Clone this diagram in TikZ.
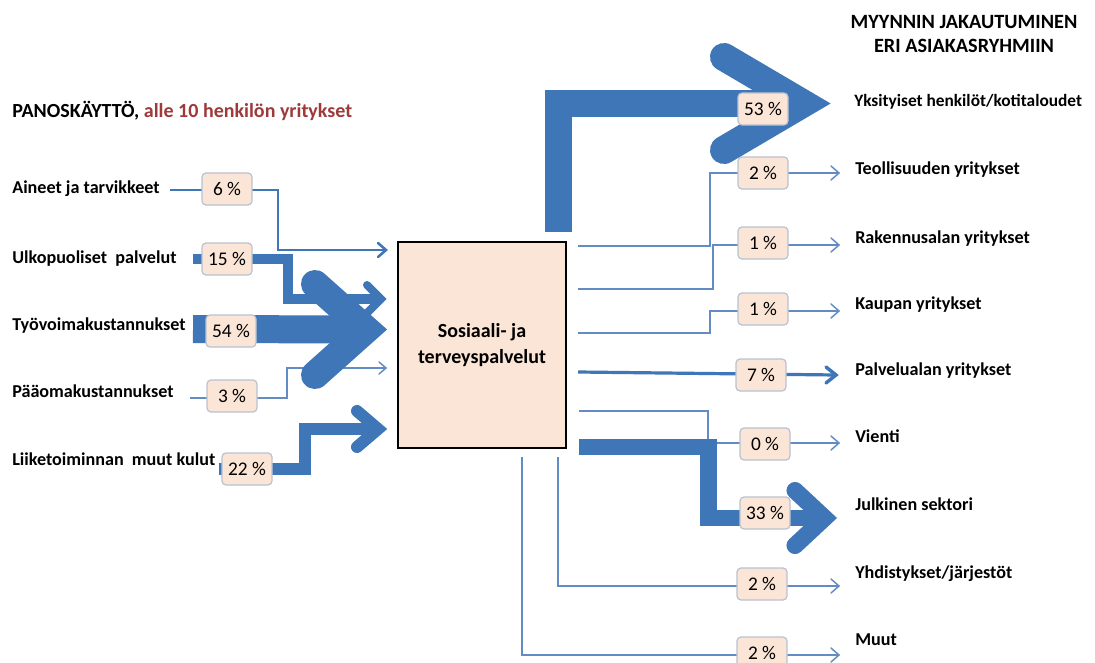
\documentclass[tikz,border=0pt]{standalone}
\usepackage{fontspec}
\setmainfont{Carlito}
\usetikzlibrary{calc,backgrounds}

\definecolor{flowblue}{RGB}{63,118,184}
\definecolor{thinblue}{RGB}{100,140,196}
\definecolor{peach}{RGB}{251,229,214}
\definecolor{pctedge}{RGB}{184,194,210}
\definecolor{accentred}{RGB}{158,58,58}

% open arrow head: colour, tip, stroke width, back length, half spread
\newcommand{\chevron}[5]{%
  \draw[#1, line width=#3, line cap=round, line join=miter, miter limit=20]
    ($(#2)+(-#4,-#5)$) -- (#2) -- ($(#2)+(-#4,#5)$);}

\tikzset{
  pct/.style={draw=pctedge, line width=0.9pt, fill=peach, rounded corners=3pt,
    minimum width=37.5pt, minimum height=24pt, inner sep=0pt,
    font=\fontsize{14.5}{16}\selectfont},
  lbl/.style={anchor=base west, inner sep=0pt,
    font=\bfseries\fontsize{13.6}{15}\selectfont},
  ttl/.style={anchor=base, inner sep=0pt,
    font=\bfseries\fontsize{15.2}{17}\selectfont},
  hubbox/.style={draw=black, line width=0.8pt, fill=peach,
    minimum width=126pt, minimum height=154.5pt, align=center,
    font=\bfseries\fontsize{15}{19}\selectfont},
  band/.style={draw=flowblue, line join=miter, miter limit=20},
  hair/.style={draw=thinblue, line width=1.1pt, line join=miter},
}

\begin{document}
\begin{tikzpicture}[x=0.75pt, y=-0.75pt]
\useasboundingbox (0,0) rectangle (1095,663);

% ---------- titles ----------
\node[lbl, font=\bfseries\fontsize{15}{17}\selectfont] (lefttitle) at (12,118)
  {PANOSKÄYTTÖ, \textcolor{accentred}{alle 10 henkilön yritykset}};
\node[ttl] (title1) at (964,29) {MYYNNIN JAKAUTUMINEN};
\node[ttl] (title2) at (964,53) {ERI ASIAKASRYHMIIN};

% ---------- central industry ----------
\node[hubbox] (hub) at (482,345) {Sosiaali- ja\\terveyspalvelut};

% ---------- inputs ----------
\node[lbl] (inA) at (12,194) {Aineet ja tarvikkeet};
\node[lbl] (inB) at (12,263) {Ulkopuoliset~ palvelut};
\node[lbl] (inC) at (12,330) {Työvoimakustannukset};
\node[lbl] (inD) at (12,397) {Pääomakustannukset};
\node[lbl] (inE) at (12,465) {Liiketoiminnan~ muut kulut};

\node[pct] (pA) at (227,189) {6 \%};
\node[pct] (pB) at (227,259) {15 \%};
\node[pct] (pC) at (231,331) {54 \%};
\node[pct] (pD) at (232,396) {3 \%};
\node[pct] (pE) at (247,469) {22 \%};

% ---------- customer groups ----------
\node[lbl, font=\bfseries\fontsize{13}{15}\selectfont] (outA) at (854,107)
  {Yksityiset henkilöt/kotitaloudet};
\node[lbl] (outB) at (855,175) {Teollisuuden yritykset};
\node[lbl] (outC) at (855,243) {Rakennusalan yritykset};
\node[lbl] (outD) at (855,309) {Kaupan yritykset};
\node[lbl] (outE) at (855,375) {Palvelualan yritykset};
\node[lbl] (outF) at (855,442) {Vienti};
\node[lbl] (outG) at (855,510) {Julkinen sektori};
\node[lbl] (outH) at (855,578) {Yhdistykset/järjestöt};
\node[lbl] (outI) at (855,645) {Muut};

\node[pct] (qA) at (763,109) {53 \%};
\node[pct] (qB) at (763,173) {2 \%};
\node[pct] (qC) at (763,243) {1 \%};
\node[pct] (qD) at (763,309) {1 \%};
\node[pct] (qE) at (761,375) {7 \%};
\node[pct] (qF) at (765,444) {0 \%};
\node[pct] (qG) at (765,513) {33 \%};
\node[pct] (qH) at (762,584) {2 \%};
\node[pct] (qI) at (762,653) {2 \%};

% ---------- flow ends ----------
\coordinate (sA) at (170,190);   \coordinate (tA) at (386,250);
\coordinate (sB) at (193,259);   \coordinate (tB) at (381,299);
\coordinate (sC) at (193,329);   \coordinate (tC) at (366,329.5);
\coordinate (sD) at (190,398);   \coordinate (tD) at (386,368);
\coordinate (sE) at (219,469);   \coordinate (tE) at (378,429);

\coordinate (rA) at (558.5,232); \coordinate (uA) at (803,103.5);
\coordinate (rB) at (578,246);   \coordinate (uB) at (839,173);
\coordinate (rC) at (578,289);   \coordinate (uC) at (839,245);
\coordinate (rD) at (578,333);   \coordinate (uD) at (839,311);
\coordinate (rE) at (578,372);   \coordinate (uE) at (836,375);
\coordinate (rF) at (579,411);   \coordinate (uF) at (839,443);
\coordinate (rG) at (579,447);   \coordinate (uG) at (824.5,518);
\coordinate (rH) at (558,457);   \coordinate (uH) at (839,586);
\coordinate (rI) at (522,457);   \coordinate (uI) at (839,655);

\begin{pgfonlayer}{background}
  \fill[white] (0,0) rectangle (1095,663);
  % inputs into the industry
  \draw[band, line width=1.9pt] (sA) -- (278,190) -- (278,250) -- (tA);
  \chevron{flowblue}{tA}{1.9pt}{8}{7}
  \draw[band, line width=6.8pt] (sB) -- (288,259) -- (288,299) -- (tB);
  \chevron{flowblue}{tB}{6pt}{14}{14}
  \draw[hair] (sD) -- (287,398) -- (287,368) -- (tD);
  \chevron{thinblue}{tD}{1.1pt}{7}{6}
  \draw[band, line width=21pt] (sC) -- (tC);
  \chevron{flowblue}{tC}{21pt}{51}{45.5}
  \draw[band, line width=9pt] (sE) -- (305,469) -- (305,429) -- (tE);
  \chevron{flowblue}{tE}{9pt}{21}{18}

  % sales to customer groups
  \draw[hair] (rB) -- (710,246) -- (710,173) -- (uB);
  \chevron{thinblue}{uB}{1.1pt}{8}{7}
  \draw[hair] (rC) -- (713,289) -- (713,245) -- (uC);
  \chevron{thinblue}{uC}{1.1pt}{8}{7}
  \draw[hair] (rD) -- (710,333) -- (710,311) -- (uD);
  \chevron{thinblue}{uD}{1.1pt}{8}{7}
  \draw[band, line width=2.4pt] (rE) -- (uE);
  \chevron{flowblue}{uE}{2.6pt}{10}{8}
  \draw[hair] (rF) -- (708,411) -- (708,443) -- (uF);
  \chevron{thinblue}{uF}{1.1pt}{8}{7}
  \draw[hair] (rH) -- (558,586) -- (uH);
  \chevron{thinblue}{uH}{1.1pt}{8}{7}
  \draw[hair] (rI) -- (522,655) -- (uI);
  \chevron{thinblue}{uI}{1.1pt}{8}{7}
  \draw[band, line width=12.5pt] (rG) -- (708.5,447) -- (708.5,518) -- (uG);
  \chevron{flowblue}{uG}{12.8pt}{29.5}{27.5}
  \draw[band, line width=20.5pt] (rA) -- (558.5,103.5) -- (uA);
  \chevron{flowblue}{uA}{21pt}{79}{46.5}
\end{pgfonlayer}
\end{tikzpicture}
\end{document}
